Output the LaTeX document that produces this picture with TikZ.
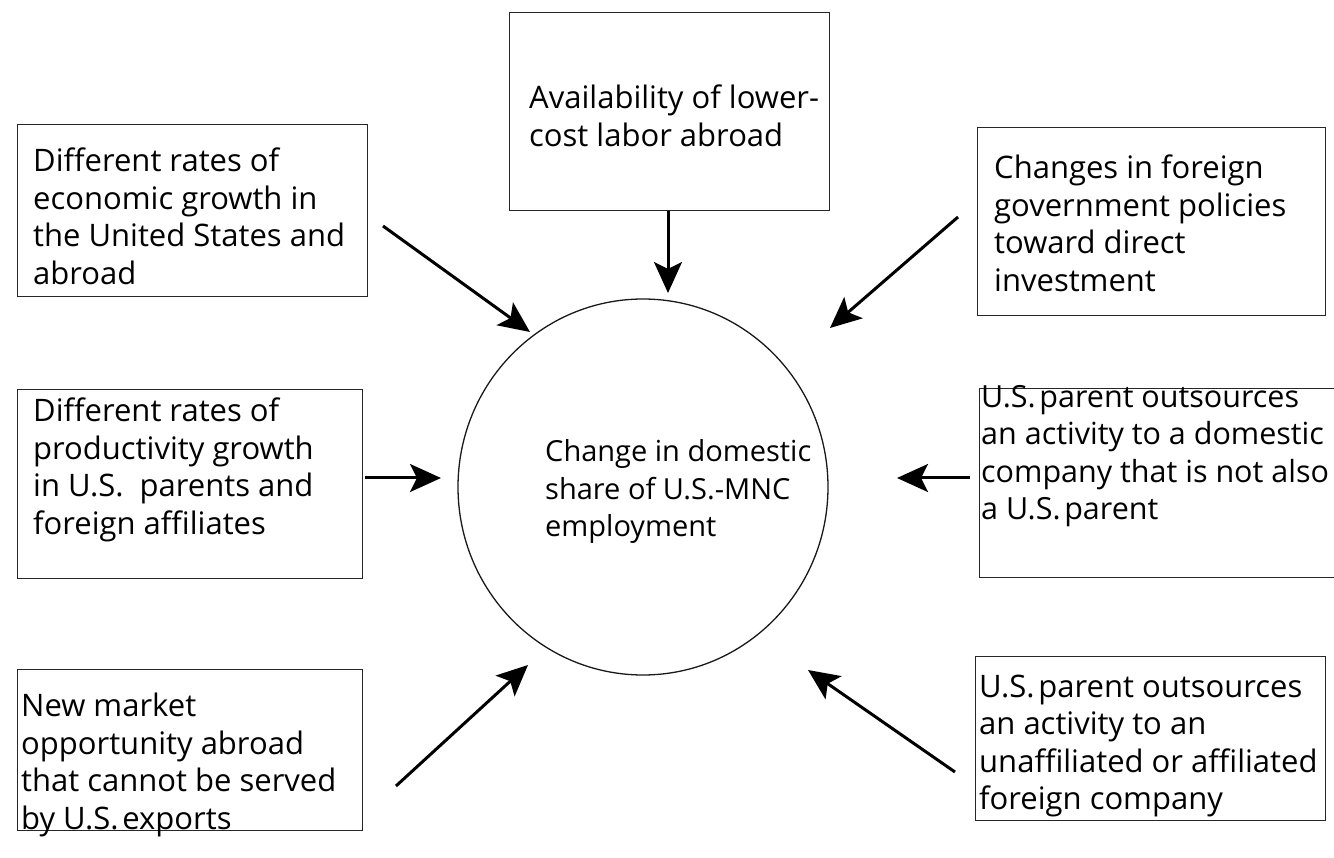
\documentclass[tikz,border=0pt]{standalone}
\usepackage{fontspec}
\setmainfont{Open Sans}
\usetikzlibrary{arrows.meta,shapes.geometric}
\begin{document}
\begin{tikzpicture}[x=1pt,y=-1pt,
  boxstyle/.style={draw=black!85, line width=1.4pt, rectangle, anchor=north west, inner sep=0pt},
  txt/.style={anchor=north west, inner sep=0pt, align=left, font=\fontsize{31}{37.5}\selectfont, execute at begin node=\strut},
  arr/.style={line width=3pt, -{Stealth[length=31pt,width=28pt,inset=7pt]}}]
\useasboundingbox (0,0) rectangle (1334,858);
\clip (0,0) rectangle (1334,858);
\newcommand{\us}{U.S.\hspace{0.12em}}
% boxes
\node[boxstyle, minimum width=350pt, minimum height=172pt] (b1) at (17,124) {};
\node[boxstyle, minimum width=320pt, minimum height=198pt] (b2) at (509,12) {};
\node[boxstyle, minimum width=348pt, minimum height=188pt] (b3) at (977,127) {};
\node[boxstyle, minimum width=380pt, minimum height=189pt] (b5) at (979,388) {};
\node[boxstyle, minimum width=345pt, minimum height=189pt] (b4) at (17,389) {};
\node[boxstyle, minimum width=345pt, minimum height=161pt] (b6) at (17,669) {};
\node[boxstyle, minimum width=350pt, minimum height=164pt] (b7) at (975,656) {};
\node[draw=black!90, line width=1.3pt, ellipse, minimum width=370pt, minimum height=376pt, inner sep=0pt] (c) at (643,487) {};
% texts
\node[txt] (t1) at (33,147.75) {Different rates of\\economic growth in\\the United States and\\abroad};
\node[txt] (t2) at (529,84.75) {Availability of lower-\\cost labor abroad};
\node[txt] (t3) at (994,154.75) {Changes in foreign\\government policies\\toward direct\\investment};
\node[txt] (t4) at (33,397.75) {Different rates of\\productivity growth\\in U.S.~\ parents and\\foreign affiliates};
\node[txt, font=\fontsize{30.5}{37.5}\selectfont] (t5) at (981,384.75) {\us parent outsources\\an activity to a domestic\\company that is not also\\a \us parent};
\node[txt] (t6) at (21,692.75) {New market\\opportunity abroad\\that cannot be served\\by \us exports};
\node[txt] (t7) at (979,674.75) {\us parent outsources\\an activity to an\\unaffiliated or affiliated\\foreign company};
\node[txt, font=\fontsize{29}{37.5}\selectfont] (tc) at (545,439.75) {Change in domestic\\share of U.S.-MNC\\employment};
% arrow ends
\coordinate (a1s) at (383,226); \coordinate (a1e) at (530,332);
\coordinate (a2s) at (668,211); \coordinate (a2e) at (668,293);
\coordinate (a3s) at (958,217); \coordinate (a3e) at (830,328);
\coordinate (a4s) at (365,478); \coordinate (a4e) at (441,478);
\coordinate (a5s) at (970,478); \coordinate (a5e) at (897,478);
\coordinate (a6s) at (396,786); \coordinate (a6e) at (528,665);
\coordinate (a7s) at (955,772); \coordinate (a7e) at (808,670);
\draw[arr] (a1s) -- (a1e);
\draw[arr] (a2s) -- (a2e);
\draw[arr] (a3s) -- (a3e);
\draw[arr] (a4s) -- (a4e);
\draw[arr] (a5s) -- (a5e);
\draw[arr] (a6s) -- (a6e);
\draw[arr] (a7s) -- (a7e);
\end{tikzpicture}
\end{document}
